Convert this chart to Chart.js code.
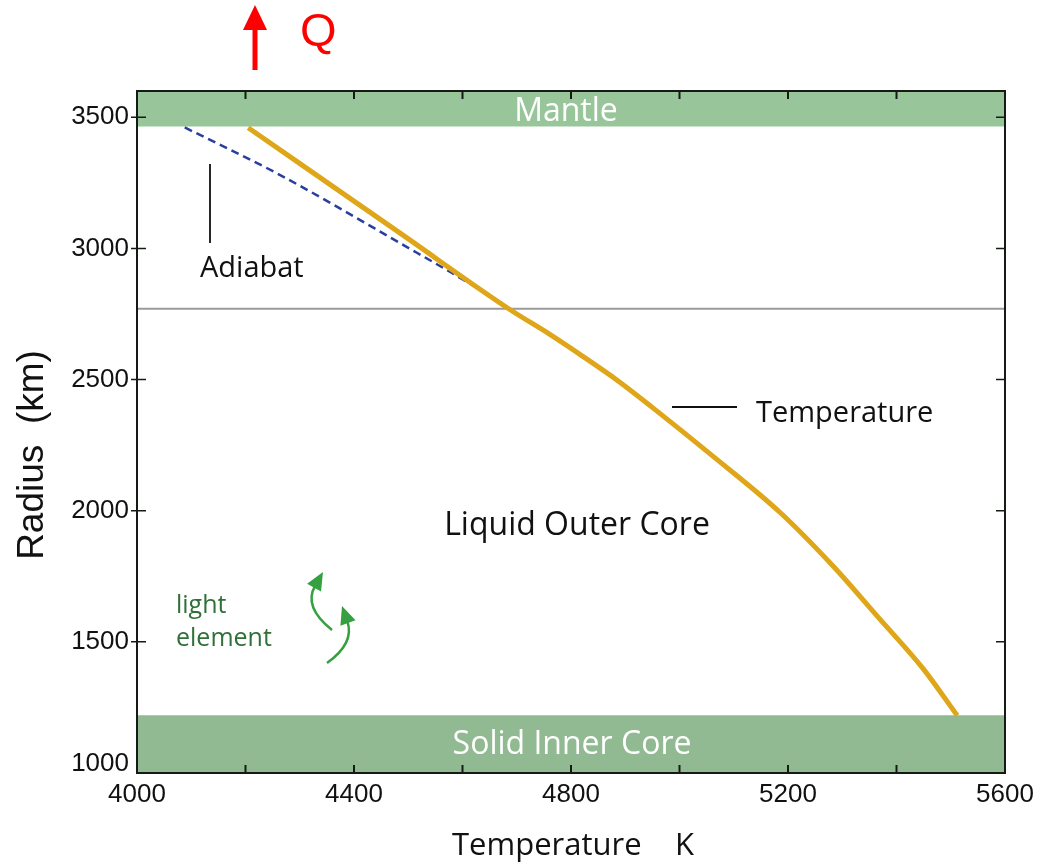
<!DOCTYPE html>
<html>
<head>
<meta charset="utf-8">
<script src="https://cdn.jsdelivr.net/npm/chart.js@4.4.1/dist/chart.umd.min.js"></script>
<style>
  html, body { margin: 0; padding: 0; background: #fff; }
  canvas { display: block; }
</style>
</head>
<body>
<canvas id="coreChart" width="1047" height="862"></canvas>
<script>
// core temperature profile (K) against radius (km)
var tempK = [4205, 4485, 4688, 4761, 4817, 4890, 4951, 5062, 5185, 5283, 5364, 5449, 5512];
var tempR = [3460, 3058, 2766, 2672, 2595, 2490, 2392, 2207, 1994, 1789, 1599, 1398, 1219];

// adiabat, dashed
var adiabatK = [4088, 4258, 4485, 4632, 4688];
var adiabatR = [3461, 3286, 3020, 2842, 2766];

// grey horizontal line
var boundaryK = [4000, 5600];
var boundaryR = [2770, 2770];

// shaded layers: [bottom, top] radius
var mantleR = [3465, 3600];
var innerCoreR = [1000, 1220];

var xTicks = [4000, 4400, 4800, 5200, 5600];
var xMinorTicks = [4200, 4400, 4600, 4800, 5000, 5200, 5400];
var yTicks = [1000, 1500, 2000, 2500, 3000, 3500];

function toPoints(xs, ys) {
  return xs.map(function(x, i) { return { x: x, y: ys[i] }; });
}

var tickFont = '26px "Liberation Sans", Arial, sans-serif';
var textFont = '"Open Sans", "Noto Sans", sans-serif';

// curved green arrow: quadratic from tail to tip with a filled head
function curvedArrow(ctx, x0, y0, cx, cy, x1, y1, color) {
  var dx = x1 - cx, dy = y1 - cy;
  var len = Math.sqrt(dx * dx + dy * dy);
  dx /= len; dy /= len;
  var hl = 18, hw = 8;
  var bx = x1 - dx * hl, by = y1 - dy * hl;
  ctx.strokeStyle = color;
  ctx.fillStyle = color;
  ctx.lineWidth = 2.5;
  ctx.beginPath();
  ctx.moveTo(x0, y0);
  ctx.quadraticCurveTo(cx, cy, bx + dx * 2, by + dy * 2);
  ctx.stroke();
  ctx.beginPath();
  ctx.moveTo(x1, y1);
  ctx.lineTo(bx - dy * hw, by + dx * hw);
  ctx.lineTo(bx + dy * hw, by - dx * hw);
  ctx.closePath();
  ctx.fill();
}

var decorations = {
  id: 'decorations',
  afterDraw: function(chart) {
    var ctx = chart.ctx;
    var xs = chart.scales.x, ys = chart.scales.y;
    var a = chart.chartArea;
    ctx.save();

    // frame
    ctx.strokeStyle = '#151a15';
    ctx.lineWidth = 2;
    ctx.strokeRect(a.left, a.top, a.right - a.left, a.bottom - a.top);

    // inward ticks
    ctx.lineWidth = 2;
    xMinorTicks.forEach(function(v) {
      var px = xs.getPixelForValue(v);
      ctx.beginPath();
      ctx.moveTo(px, a.bottom); ctx.lineTo(px, a.bottom - 8);
      ctx.moveTo(px, a.top); ctx.lineTo(px, a.top + 8);
      ctx.stroke();
    });
    ctx.lineWidth = 1.5;
    yTicks.forEach(function(v) {
      if (v === 1000) return;
      var py = ys.getPixelForValue(v);
      ctx.beginPath();
      ctx.moveTo(a.left - 6, py); ctx.lineTo(a.left + 9, py);
      ctx.moveTo(a.right, py); ctx.lineTo(a.right - 9, py);
      ctx.stroke();
    });

    // tick labels
    ctx.fillStyle = '#111';
    ctx.font = tickFont;
    ctx.textAlign = 'center';
    ctx.textBaseline = 'middle';
    xTicks.forEach(function(v) {
      ctx.fillText(String(v), xs.getPixelForValue(v), 795);
    });
    ctx.textAlign = 'right';
    yTicks.forEach(function(v) {
      var py = ys.getPixelForValue(v);
      if (v === 1000) py -= 9;
      ctx.fillText(String(v), 129, py);
    });

    // axis titles
    ctx.font = '37px "Liberation Sans", Arial, sans-serif';
    ctx.textAlign = 'center';
    ctx.save();
    ctx.translate(33, 455);
    ctx.rotate(-Math.PI / 2);
    ctx.fillText('Radius  (km)', 0, 0);
    ctx.restore();
    ctx.font = '31px ' + textFont;
    ctx.textBaseline = 'alphabetic';
    ctx.textAlign = 'left';
    ctx.fillText('Temperature', 452, 855);
    ctx.fillText('K', 675, 855);

    // band labels
    ctx.fillStyle = '#ffffff';
    ctx.font = '32px ' + textFont;
    ctx.textAlign = 'center';
    ctx.fillText('Mantle', 566, 121);
    ctx.fillText('Solid Inner Core', 572, 754);

    // annotations
    ctx.fillStyle = '#111';
    ctx.font = '32px ' + textFont;
    ctx.fillText('Liquid Outer Core', 577, 535);
    ctx.font = '29px ' + textFont;
    ctx.textAlign = 'left';
    ctx.fillText('Adiabat', 200, 277);
    ctx.fillText('Temperature', 756, 422);
    ctx.lineWidth = 1.8;
    ctx.strokeStyle = '#111';
    ctx.beginPath();
    ctx.moveTo(210, 164); ctx.lineTo(210, 243);
    ctx.moveTo(672, 407); ctx.lineTo(737, 407);
    ctx.stroke();

    ctx.fillStyle = 'rgb(48, 112, 56)';
    ctx.font = '25px ' + textFont;
    ctx.fillText('light', 176, 613);
    ctx.fillText('element', 176, 646);
    curvedArrow(ctx, 332, 630, 303, 607, 323, 572, 'rgb(52, 160, 64)');
    curvedArrow(ctx, 327, 663, 355, 643, 342, 606, 'rgb(52, 160, 64)');

    // heat flow arrow and Q
    ctx.strokeStyle = '#ff0000';
    ctx.fillStyle = '#ff0000';
    ctx.lineWidth = 5;
    ctx.beginPath();
    ctx.moveTo(255, 70); ctx.lineTo(255, 26);
    ctx.stroke();
    ctx.beginPath();
    ctx.moveTo(255, 5); ctx.lineTo(243, 30); ctx.lineTo(267, 30);
    ctx.closePath();
    ctx.fill();
    ctx.font = '47px "Liberation Sans", Arial, sans-serif';
    ctx.fillText('Q', 300, 46);

    ctx.restore();
  }
};

var ctx = document.getElementById('coreChart').getContext('2d');
var coreChart = new Chart(ctx, {
  type: 'scatter',
  data: {
    datasets: [
      {
        label: 'Temperature',
        data: toPoints(tempK, tempR),
        showLine: true,
        borderColor: 'rgb(222, 166, 24)',
        borderWidth: 5,
        pointRadius: 0,
        cubicInterpolationMode: 'monotone'
      },
      {
        label: 'Adiabat',
        data: toPoints(adiabatK, adiabatR),
        showLine: true,
        borderColor: 'rgb(42, 62, 160)',
        borderWidth: 2.5,
        borderDash: [8, 5],
        pointRadius: 0,
        cubicInterpolationMode: 'monotone'
      },
      {
        label: 'Boundary',
        data: toPoints(boundaryK, boundaryR),
        showLine: true,
        borderColor: '#9a9a9a',
        borderWidth: 2,
        pointRadius: 0
      },
      {
        label: 'Mantle',
        data: toPoints(boundaryK, [mantleR[1], mantleR[1]]),
        showLine: true,
        borderWidth: 0,
        borderColor: 'rgba(0,0,0,0)',
        backgroundColor: 'rgb(152, 198, 154)',
        fill: { value: mantleR[0] },
        pointRadius: 0
      },
      {
        label: 'Inner core',
        data: toPoints(boundaryK, [innerCoreR[1], innerCoreR[1]]),
        showLine: true,
        borderWidth: 0,
        borderColor: 'rgba(0,0,0,0)',
        backgroundColor: 'rgb(146, 186, 146)',
        fill: { value: innerCoreR[0] },
        pointRadius: 0
      }
    ]
  },
  options: {
    responsive: false,
    animation: false,
    layout: { padding: { top: 91, right: 42, left: 0, bottom: 0 } },
    plugins: {
      legend: { display: false },
      tooltip: { enabled: false }
    },
    scales: {
      x: {
        type: 'linear',
        min: 4000,
        max: 5600,
        grid: { display: false, drawTicks: false },
        border: { display: false },
        ticks: { display: false },
        afterFit: function(scale) { scale.height = 89; }
      },
      y: {
        type: 'linear',
        min: 1000,
        max: 3600,
        grid: { display: false, drawTicks: false },
        border: { display: false },
        ticks: { display: false },
        afterFit: function(scale) { scale.width = 137; }
      }
    }
  },
  plugins: [decorations]
});
</script>
</body>
</html>
